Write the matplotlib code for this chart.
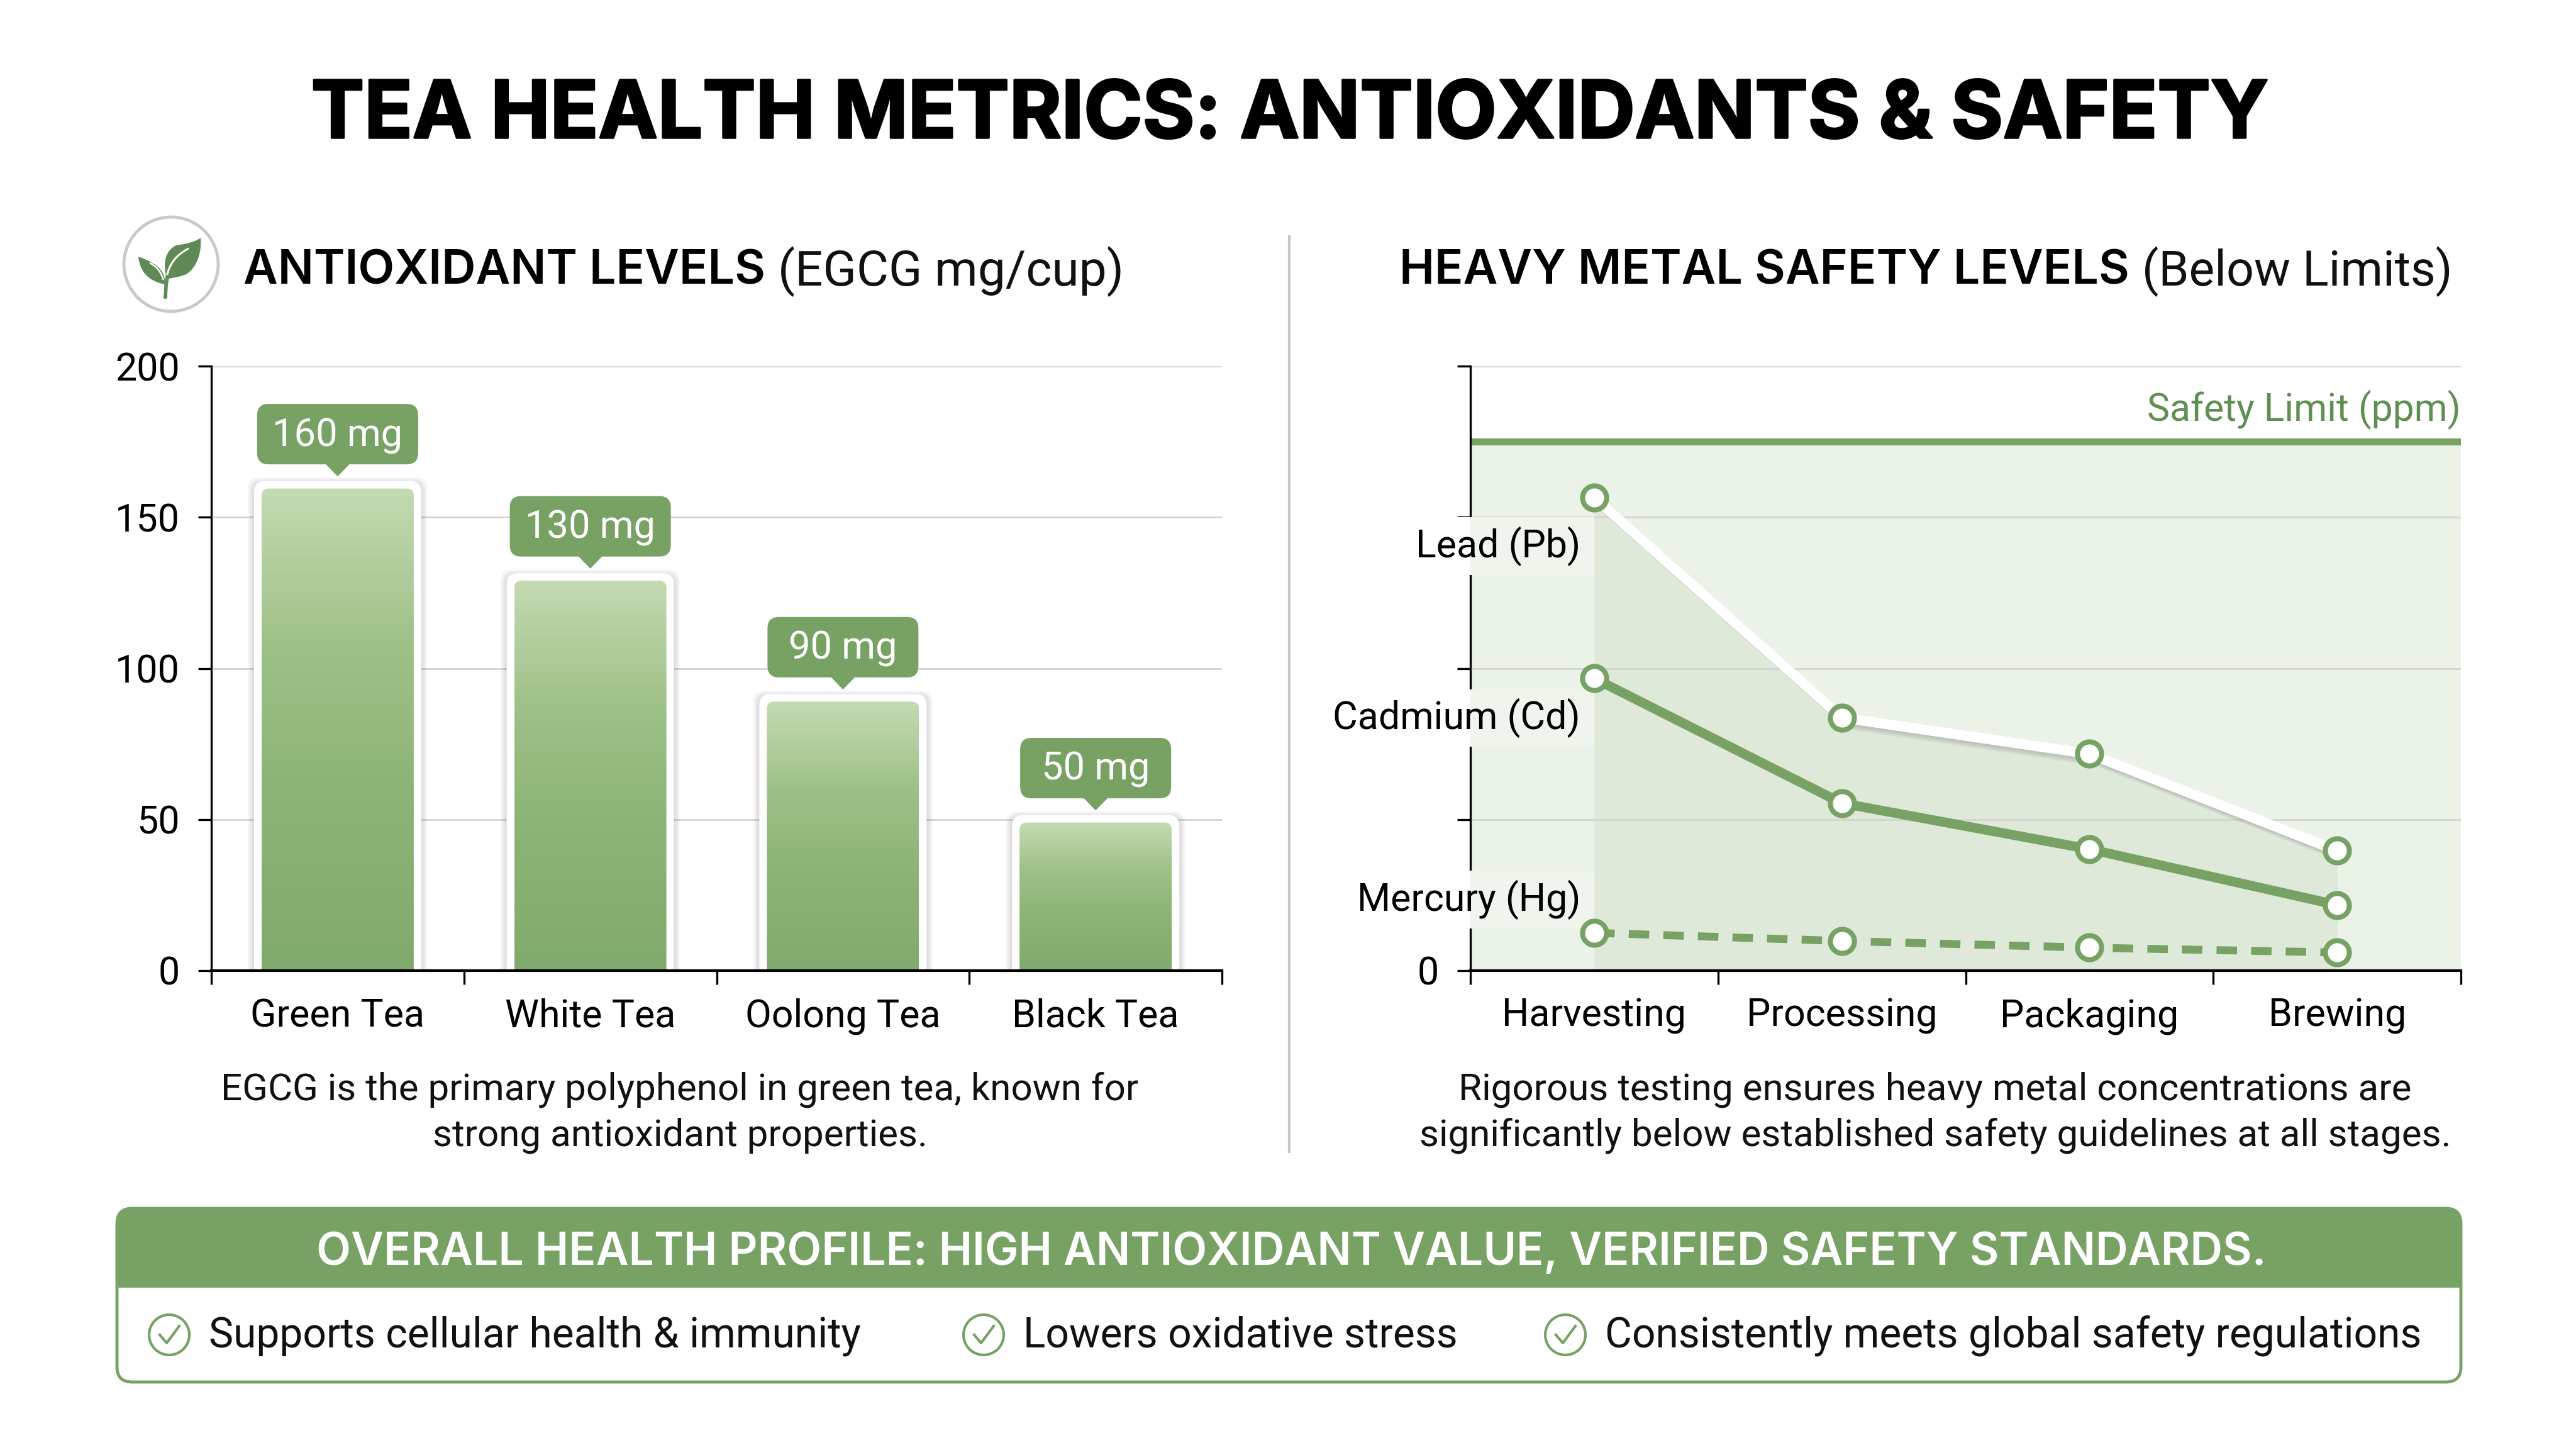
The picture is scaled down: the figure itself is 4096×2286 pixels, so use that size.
import numpy as np
import matplotlib
matplotlib.use("Agg")
import matplotlib.pyplot as plt
import matplotlib.patheffects as pe
from matplotlib.colors import LinearSegmentedColormap
from matplotlib.patches import Circle, FancyBboxPatch, PathPatch, Polygon, Rectangle
from matplotlib.path import Path

plt.rcParams["font.family"] = ["Roboto", "DejaVu Sans"]

# data
title = "TEA HEALTH METRICS: ANTIOXIDANTS & SAFETY"
teas = ["Green Tea", "White Tea", "Oolong Tea", "Black Tea"]
egcg_labels = ["160 mg", "130 mg", "90 mg", "50 mg"]
egcg = [159.5, 129, 89, 49]  # as drawn, a bit under the labels
stages = ["Harvesting", "Processing", "Packaging", "Brewing"]
lead = [156.5, 83.7, 71.7, 39.7]
cadmium = [96.7, 55.4, 40.2, 21.7]
mercury = [12.5, 9.8, 7.6, 6.0]
safety_limit = 175
left_note = ["EGCG is the primary polyphenol in green tea, known for",
             "strong antioxidant properties."]
right_note = ["Rigorous testing ensures heavy metal concentrations are",
              "significantly below established safety guidelines at all stages."]
banner = "OVERALL HEALTH PROFILE: HIGH ANTIOXIDANT VALUE, VERIFIED SAFETY STANDARDS."
bullets = ["Supports cellular health & immunity", "Lowers oxidative stress",
           "Consistently meets global safety regulations"]

GREEN = "#77a263"
DARK_GREEN = "#5f8f52"
GRID = "#d2d5d1"
W, H = 4096, 2286
BODY = 43.4

fig = plt.figure(figsize=(W / 100, H / 100), dpi=100, facecolor="white")

# whole figure axes in pixels, for the title, the divider and the bottom box
bg = fig.add_axes([0, 0, 1, 1])
bg.set_xlim(0, W)
bg.set_ylim(H, 0)
bg.axis("off")

bg.text(W / 2 + 3, 186, title, ha="center", va="center", fontsize=91,
        family="Inter", fontweight="bold", color="black",
        path_effects=[pe.withStroke(linewidth=2.5, foreground="black")])
bg.plot([2050, 2050], [376, 1831], color="#c4c6c4", lw=3)


def two_part_title(x, y, bold, light, size, light_size):
    t = bg.text(x, y, bold, ha="left", va="center", fontsize=size,
                family="Inter", fontweight="semibold", color="black")
    ext = t.get_window_extent(fig.canvas.get_renderer())
    bg.text(x + ext.width + 20, y, light, ha="left", va="center", fontsize=light_size,
            family="Roboto", color="#111111")


two_part_title(387, 432, "ANTIOXIDANT LEVELS", "(EGCG mg/cup)", 54.2, 56.5)
two_part_title(2225, 432, "HEAVY METAL SAFETY LEVELS", "(Below Limits)", 54.2, 55.5)

# leaf icon
bg.add_patch(Circle((272, 420), 75, fc="white", ec="#c8c9c8", lw=3.5))
C4 = Path.CURVE4
big_leaf = Path([(265, 444), (258, 415), (264, 398), (280, 390),
                 (295, 388), (310, 385), (319, 378),
                 (321, 400), (314, 425), (296, 436),
                 (285, 441), (275, 441), (265, 444)],
                [Path.MOVETO] + [C4] * 12)
small_leaf = Path([(262, 452), (264, 435), (255, 420), (220, 408),
                   (222, 428), (232, 446), (262, 452)],
                  [Path.MOVETO] + [C4] * 6)
bg.add_patch(PathPatch(big_leaf, fc="#5f8a55", ec="none"))
bg.add_patch(PathPatch(small_leaf, fc="#5f8a55", ec="none"))
bg.plot([263, 264, 266], [472, 455, 440], color="#5f8a55", lw=4)
bg.add_patch(PathPatch(Path([(264, 445), (268, 420), (280, 405), (300, 395)],
                            [Path.MOVETO, C4, C4, C4]), fc="none", ec="white", lw=2.2))
bg.add_patch(PathPatch(Path([(260, 445), (255, 430), (248, 423), (238, 418)],
                            [Path.MOVETO, C4, C4, C4]), fc="none", ec="white", lw=1.8))

# left chart
ax = fig.add_axes([336 / W, 1 - 1543 / H, 1607 / W, 961 / H], facecolor="none")
ax.set_xlim(0, 4)
ax.set_ylim(0, 200)
px_x = 1607 / 4
px_y = 961 / 200
aspect = px_x / px_y
ax.set_axisbelow(True)
ax.yaxis.grid(True, color=GRID, lw=2)
bar_cmap = LinearSegmentedColormap.from_list("bar", ["#c3dab0", "#9cc086", "#8bb375", "#81ab6c"])
positions = np.arange(len(teas)) + 0.5
bars = ax.bar(positions, egcg, width=242 / px_x, color="none", zorder=2)


def round_box(x0, y0, w, h, r_px, **kw):
    return FancyBboxPatch((x0, y0), w, h, boxstyle=f"round,pad=0,rounding_size={r_px / px_x}",
                          mutation_aspect=aspect, **kw)


for rect, v, lab in zip(bars, egcg, egcg_labels):
    x0, w = rect.get_x(), rect.get_width()
    # soft shadow then white frame round the bar
    for grow in range(22, 12, -1):
        ax.add_patch(round_box(x0 - grow / px_x, -20, w + 2 * grow / px_x,
                               v + 20 + (grow - 4) / px_y, 18,
                               fc="#55505a", ec="none", alpha=0.018, zorder=2.1))
    ax.add_patch(round_box(x0 - 12 / px_x, -20, w + 24 / px_x, v + 20 + 12 / px_y, 18,
                           fc="white", ec="none", zorder=2.2))
    body = round_box(x0, -20, w, v + 20, 12, fc="none", ec="none", zorder=2.3)
    ax.add_patch(body)
    im = ax.imshow(np.linspace(0, 1, 64).reshape(-1, 1), extent=(x0, x0 + w, 0, v),
                   cmap=bar_cmap, aspect="auto", zorder=2.4, origin="upper")
    im.set_clip_path(body)
    # callout
    cx = x0 + w / 2
    bw = (256 if len(lab) == 6 else 240) / px_x
    ax.add_patch(round_box(cx - bw / 2, v + 8, bw, 20, 18, fc=GREEN, ec="none", zorder=3))
    ax.add_patch(Polygon([(cx - 21 / px_x, v + 8.5), (cx + 21 / px_x, v + 8.5), (cx, v + 4)],
                         fc=GREEN, ec="none", zorder=3))
    ax.text(cx, v + 17.5, lab, ha="center", va="center", color="white",
            fontsize=BODY + 0.8, zorder=4)
ax.set_xlim(0, 4)
ax.set_ylim(0, 200)


def style_axes(a, labels):
    for s in ["top", "right"]:
        a.spines[s].set_visible(False)
    a.spines["left"].set_linewidth(2.4)
    a.spines["bottom"].set_linewidth(3)
    a.spines["left"].set_zorder(5)
    a.spines["bottom"].set_zorder(5)
    a.set_yticks([0, 50, 100, 150, 200])
    a.set_xticks([0, 1, 2, 3, 4])
    a.set_xticklabels([])
    a.set_xticks(np.arange(len(labels)) + 0.5, labels=labels, minor=True)
    a.tick_params(axis="x", which="major", length=16, width=2.4, color="black")
    a.tick_params(axis="x", which="minor", length=0, pad=31, labelsize=BODY + 0.4)
    a.tick_params(axis="y", length=15, width=2.4, labelsize=BODY + 0.6, pad=21)


style_axes(ax, teas)

# right chart
ax2 = fig.add_axes([2338 / W, 1 - 1543 / H, 1575 / W, 961 / H], facecolor="none")
ax2.set_xlim(0, 4)
ax2.set_ylim(0, 200)
stage_x = np.arange(len(stages)) + 0.5
ax2.axhspan(0, safety_limit, color="#ebf2e8", lw=0, zorder=1)
ax2.fill_between(stage_x, 0, lead, color="#dfe9d9", lw=0, zorder=1.1)
ax2.set_axisbelow(False)
ax2.yaxis.grid(True, color=GRID, lw=2)
ax2.axhline(safety_limit, color=GREEN, lw=8, zorder=2, solid_capstyle="butt")
ax2.text(4, safety_limit + 10.5, "Safety Limit (ppm)", ha="right", va="center",
         color=DARK_GREEN, fontsize=BODY + 0.3)

shadow = [pe.SimpleLineShadow(offset=(o, -o), shadow_color="#555555", alpha=0.07)
          for o in (2, 4, 6, 8)] + [pe.Normal()]
ax2.plot(stage_x, lead, color="white", lw=11.5, zorder=3, path_effects=shadow)
ax2.plot(stage_x, cadmium, color=GREEN, lw=11, zorder=3)
ax2.plot(stage_x, mercury, color=GREEN, lw=9, ls=(0, (2.6, 1.8)), zorder=3)
for series in [lead, cadmium, mercury]:
    ax2.plot(stage_x, series, ls="none", marker="o", ms=27.5, mfc="white", mec=GREEN, mew=5.8, zorder=5.8)

style_axes(ax2, stages)
ax2.set_yticklabels(["0", "", "", "", ""])
metal_names = ["Lead (Pb)", "Cadmium (Cd)", "Mercury (Hg)"]
metal_label_y = [140.5, 83.5, 23.5]
for name, y in zip(metal_names, metal_label_y):
    # the labels sit on a pale strip that breaks the axis line
    ax2.add_patch(Rectangle((-0.5, y - 9.5), 0.5, 19, fc="white", ec="none", clip_on=False, zorder=5.5))
    ax2.add_patch(Rectangle((0, y - 9.5), 0.5, 19, fc="#eff5ec", ec="none", clip_on=False, zorder=5.5))
    ax2.text(0.445, y, name, ha="right", va="center", fontsize=BODY + 0.4, zorder=6)

# notes under the charts
for x, lines in [(1081, left_note), (3077, right_note)]:
    for y, line in zip([1732, 1805], lines):
        bg.text(x, y, line, ha="center", va="center", fontsize=BODY - 0.2, color="#111111")

# bottom box
bg.add_patch(FancyBboxPatch((186, 1921), 3727, 276, boxstyle="round,pad=0,rounding_size=24",
                            fc="white", ec=GREEN, lw=3.5))
head = FancyBboxPatch((186, 1920), 3727, 200, boxstyle="round,pad=0,rounding_size=24",
                      fc=GREEN, ec="none")
bg.add_patch(head)
head.set_clip_path(Rectangle((0, 1900), W, 147, transform=bg.transData))
bg.text(2053, 1992, banner, ha="center", va="center", color="white", fontsize=51.5,
        family="Inter", fontweight="semibold")

bullet_x = [332, 1627, 2552]
for x, line in zip(bullet_x, bullets):
    bg.text(x, 2124, line, ha="left", va="center", fontsize=47.4, color="#111111")
    cx = x - 63
    bg.add_patch(Circle((cx, 2122), 32, fc="white", ec=GREEN, lw=3))
    bg.plot([cx - 15, cx - 4, cx + 16], [2122, 2135, 2108], color=GREEN, lw=3)

fig.savefig("out.png", dpi=100)
